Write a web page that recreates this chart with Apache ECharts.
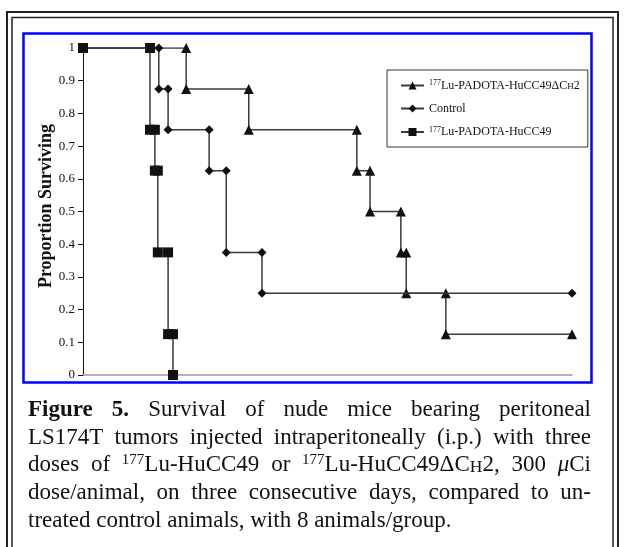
<!DOCTYPE html>
<html>
<head>
<meta charset="utf-8">
<script src="https://cdn.jsdelivr.net/npm/echarts@6/dist/echarts.min.js"></script>
<style>
html,body{margin:0;padding:0;background:#fff;}
#chart{width:624px;height:547px;}
</style>
</head>
<body>
<div id="chart"></div>
<script>
// ---- data (x in arbitrary time units, 0..100; no x labels in the source) ----
const yTicks = [0, 0.1, 0.2, 0.3, 0.4, 0.5, 0.6, 0.7, 0.8, 0.9, 1];
const seriesNames = ['177Lu-PADOTA-HuCC49ΔCH2', 'Control', '177Lu-PADOTA-HuCC49'];
const ch2X = [0, 21.1, 21.1, 33.9, 33.9, 56.0, 56.0, 58.7, 58.7, 65.0, 65.0, 66.1, 66.1, 74.2, 74.2, 100];
const ch2Y = [1, 1, 0.875, 0.875, 0.75, 0.75, 0.625, 0.625, 0.5, 0.5, 0.375, 0.375, 0.25, 0.25, 0.125, 0.125];
const ctrlX = [0, 15.5, 15.5, 17.4, 17.4, 25.8, 25.8, 29.3, 29.3, 36.6, 36.6, 100];
const ctrlY = [1, 1, 0.875, 0.875, 0.75, 0.75, 0.625, 0.625, 0.375, 0.375, 0.25, 0.25];
const cc49X = [0, 13.7, 13.7, 14.7, 14.7, 15.3, 15.3, 17.4, 17.4, 18.4, 18.4];
const cc49Y = [1, 1, 0.75, 0.75, 0.625, 0.625, 0.375, 0.375, 0.125, 0.125, 0];

// caption lines: words as segments [text, style]
const captionLines = [
  [[['Figure','b']],[['5.','b']],[['Survival','n']],[['of','n']],[['nude','n']],[['mice','n']],[['bearing','n']],[['peritoneal','n']]],
  [[['LS174T','n']],[['tumors','n']],[['injected','n']],[['intraperitoneally','n']],[['(i.p.)','n']],[['with','n']],[['three','n']]],
  [[['doses','n']],[['of','n']],[['177','sup'],['Lu-HuCC49','n']],[['or','n']],[['177','sup'],['Lu-HuCC49ΔC','n'],['H','sc'],['2,','n']],[['300','n']],[['μ','it'],['Ci','n']]],
  [[['dose/animal,','n']],[['on','n']],[['three','n']],[['consecutive','n']],[['days,','n']],[['compared','n']],[['to','n']],[['un-','n']]],
  [[['treated','n']],[['control','n']],[['animals,','n']],[['with','n']],[['8','n']],[['animals/group.','n']]]
];

const SERIF = '"Liberation Serif", "Times New Roman", serif';
const zip = (xs, ys) => xs.map((x, i) => [x, ys[i]]);

const chart = echarts.init(document.getElementById('chart'), null, {renderer: 'canvas'});

// ----- caption layout (justified) -----
const styles = {
  n:   {size: 23, weight: 'normal', fstyle: 'normal', dy: 0},
  b:   {size: 23, weight: 'bold', fstyle: 'normal', dy: 0},
  it:  {size: 23, weight: 'normal', fstyle: 'italic', dy: 0},
  sup: {size: 15, weight: 'normal', fstyle: 'normal', dy: -5},
  sc:  {size: 17.5, weight: 'normal', fstyle: 'normal', dy: 1.6}
};
const mctx = document.createElement('canvas').getContext('2d');
function fontOf(s) { return s.fstyle + ' ' + s.weight + ' ' + s.size + 'px ' + SERIF; }
function segW(seg) { mctx.font = fontOf(styles[seg[1]]); return mctx.measureText(seg[0]).width; }
const capLeft = 28, capRight = 591, capTop = 410, capLH = 27.7;
const captionGraphics = [];
captionLines.forEach((words, li) => {
  const widths = words.map(w => w.reduce((a, s) => a + segW(s), 0));
  const total = widths.reduce((a, b) => a + b, 0);
  const last = li === captionLines.length - 1;
  mctx.font = fontOf(styles.n);
  const gap = last ? mctx.measureText(' ').width : (capRight - capLeft - total) / (words.length - 1);
  let x = capLeft;
  const y = capTop + li * capLH;
  words.forEach((w, wi) => {
    let sx = x;
    w.forEach(seg => {
      const st = styles[seg[1]];
      captionGraphics.push({
        type: 'text', x: sx, y: y + st.dy,
        style: {text: seg[0], font: fontOf(st), fill: '#111', textAlign: 'left', textVerticalAlign: 'middle', verticalAlign: 'middle'}
      });
      sx += segW(seg);
    });
    x += widths[wi] + gap;
  });
});

const legendRich = {
  sup: {fontSize: 8, fontFamily: SERIF, color: '#111', padding: [0, 0, 5, 0]},
  t: {fontSize: 12, fontFamily: SERIF, color: '#111'},
  sc: {fontSize: 9, fontFamily: SERIF, color: '#111', padding: [2, 0, 0, 0]}
};
function legendFmt(name) {
  if (name === seriesNames[0]) return '{sup|177}{t|Lu-PADOTA-HuCC49ΔC}{sc|H}{t|2}';
  if (name === seriesNames[2]) return '{sup|177}{t|Lu-PADOTA-HuCC49}';
  return '{t|' + name + '}';
}

const lineStyle = {color: '#3a3a3a', width: 1.5};
const option = {
  animation: false,
  backgroundColor: '#fff',
  grid: {left: 83, right: 52, top: 48, bottom: 172, containLabel: false},
  xAxis: {
    type: 'value', min: 0, max: 100,
    axisLine: {show: true, lineStyle: {color: '#9a9a9a', width: 1.5}},
    axisTick: {show: false}, axisLabel: {show: false}, splitLine: {show: false}
  },
  yAxis: {
    type: 'value', min: 0, max: 1, interval: 0.1,
    axisLine: {show: true, onZero: false, lineStyle: {color: '#111', width: 1}},
    axisTick: {show: true, length: 5, lineStyle: {color: '#111'}},
    axisLabel: {margin: 8, fontFamily: SERIF, fontSize: 13, color: '#111',
      formatter: v => (v === 0 ? '0' : v === 1 ? '1' : v.toFixed(1))},
    splitLine: {show: false}
  },
  legend: {
    orient: 'vertical', left: 387, top: 70,
    padding: [9, 8, 9, 13], itemGap: 11, itemWidth: 23, itemHeight: 10,
    borderColor: '#333', borderWidth: 1, backgroundColor: '#fff',
    data: seriesNames,
    formatter: legendFmt,
    textStyle: {rich: legendRich, fontFamily: SERIF, fontSize: 12, color: '#111'}
  },
  series: [
    {name: seriesNames[0], type: 'line', data: zip(ch2X, ch2Y), symbol: 'triangle', symbolSize: 10,
     showAllSymbol: true, itemStyle: {color: '#111'}, lineStyle: lineStyle, z: 2},
    {name: seriesNames[1], type: 'line', data: zip(ctrlX, ctrlY), symbol: 'diamond', symbolSize: 9,
     showAllSymbol: true, itemStyle: {color: '#111'}, lineStyle: lineStyle, z: 3},
    {name: seriesNames[2], type: 'line', data: zip(cc49X, cc49Y), symbol: 'rect', symbolSize: 10,
     showAllSymbol: true, itemStyle: {color: '#111'}, lineStyle: lineStyle, z: 4}
  ],
  graphic: [
    // outer double frame
    {type: 'rect', shape: {x: 7, y: 12, width: 611, height: 560}, style: {fill: 'none', stroke: '#222', lineWidth: 2}, z: -1, silent: true},
    {type: 'rect', shape: {x: 12, y: 17.5, width: 601, height: 550}, style: {fill: 'none', stroke: '#222', lineWidth: 1.5}, z: -1, silent: true},
    // blue chart box
    {type: 'rect', shape: {x: 23.5, y: 33.5, width: 568, height: 349}, style: {fill: 'none', stroke: '#0000ff', lineWidth: 2.5}, z: 10, silent: true},
    // y axis title
    {type: 'text', x: 46, y: 206, rotation: Math.PI / 2,
     style: {text: 'Proportion Surviving', font: 'bold 18px ' + SERIF, fill: '#111', textAlign: 'center', textVerticalAlign: 'middle', verticalAlign: 'middle'}},
  ].concat(captionGraphics)
};
chart.setOption(option);
</script>
</body>
</html>
